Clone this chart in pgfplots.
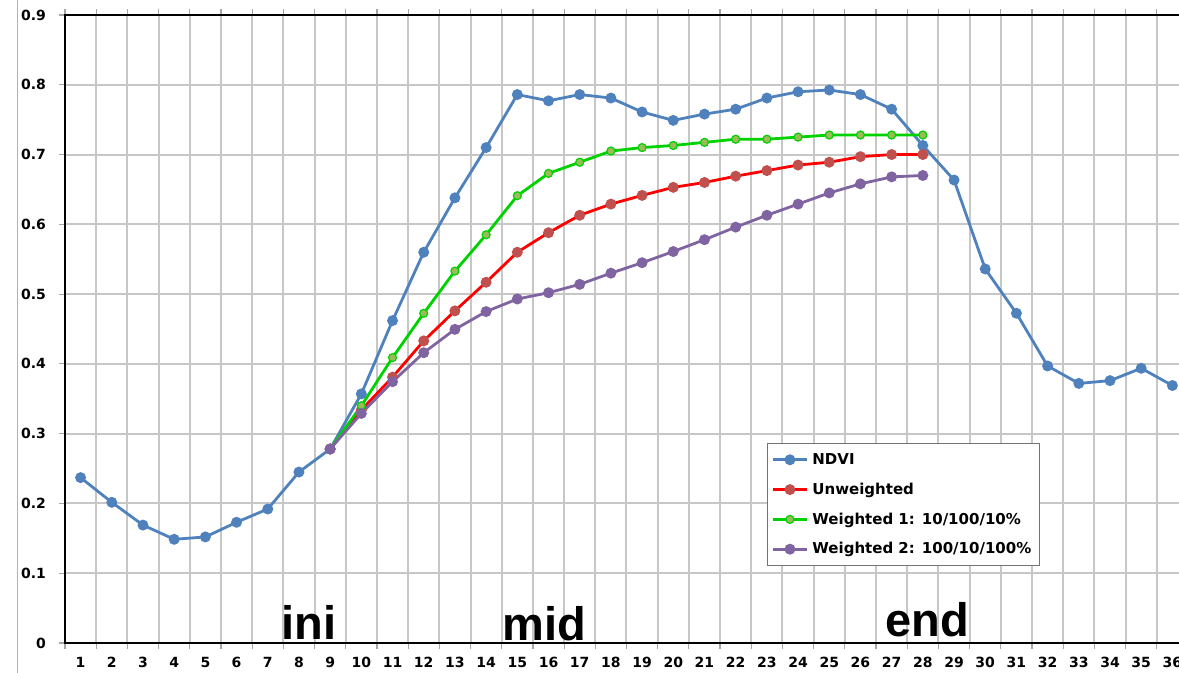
\documentclass[border=0pt]{standalone}
\usepackage{pgfplots}
\pgfplotsset{compat=1.18}
\usepackage{fontspec}
\setmainfont{DejaVu Sans}
\newfontfamily\arialb{Liberation Sans}
\definecolor{ndvi}{HTML}{4F81BD}
\definecolor{redm}{HTML}{C0504D}
\definecolor{greenl}{RGB}{0,210,0}
\definecolor{greenm}{HTML}{9BBB59}
\definecolor{purp}{HTML}{8064A2}
\begin{document}
\begin{tikzpicture}
\useasboundingbox (0,0) rectangle (589.5pt,336.5pt);
\clip (0,0) rectangle (589.5pt,336.5pt);
\draw[black!30, line width=0.5pt] (8.5pt,0) -- (8.5pt,336.5pt);
\begin{axis}[
  at={(32.5pt,15pt)}, anchor=south west,
  scale only axis, width=561.5pt, height=314pt,
  xmin=0.5, xmax=36.5, ymin=0, ymax=0.9,
  xtick={1,...,36},
  minor xtick={0.5,1.5,...,36.5},
  ytick={0,0.1,0.2,0.3,0.4,0.5,0.6,0.7,0.8,0.9},
  yticklabel style={/pgf/number format/fixed,/pgf/number format/precision=1},
  /pgf/number format/assume math mode=true,
  tick label style={font=\fontsize{7}{8}\selectfont\bfseries},
  xticklabel style={yshift=-3pt, inner sep=1pt},
  yticklabel style={xshift=-3pt},
  tick align=outside,
  major tick length=3pt, minor tick length=3pt,
  major x tick style={draw=none},
  minor x tick style={black!35, line width=0.6pt},
  ytick style={black!35, line width=0.6pt},
  xminorgrids=true, ymajorgrids=true,
  grid style={black!22, line width=1pt},
  minor grid style={black!22, line width=1pt},
  axis line style={black, line width=1.3pt},
  legend style={at={(0.6251,0.3185)}, anchor=north west, draw=black!55, line width=0.5pt,
    font=\fontsize{7.5}{9}\selectfont\bfseries, inner sep=2pt,
    nodes={inner sep=2pt, text height=6.5pt, text depth=1.8pt},
    row sep=2.6pt},
  legend cell align=left,
]
\addplot[ndvi, line width=1.4pt, mark=*, mark size=2pt, mark options={fill=ndvi, draw=ndvi}] coordinates {
(1,0.237)(2,0.2016)(3,0.169)(4,0.1486)(5,0.152)(6,0.173)(7,0.192)(8,0.245)(9,0.278)
(10,0.357)(11,0.462)(12,0.560)(13,0.638)(14,0.710)(15,0.786)(16,0.777)(17,0.786)(18,0.781)
(19,0.761)(20,0.749)(21,0.758)(22,0.765)(23,0.781)(24,0.790)(25,0.7925)(26,0.786)(27,0.765)
(28,0.713)(29,0.6635)(30,0.536)(31,0.4725)(32,0.397)(33,0.372)(34,0.376)(35,0.3937)(36,0.369)};
\addlegendentry{NDVI}
\addplot[red, line width=1.4pt, mark=*, mark size=2pt, mark options={fill=redm, draw=redm}] coordinates {
(9,0.278)(10,0.334)(11,0.381)(12,0.433)(13,0.476)(14,0.517)(15,0.560)(16,0.588)(17,0.613)
(18,0.629)(19,0.6415)(20,0.653)(21,0.660)(22,0.669)(23,0.677)(24,0.685)(25,0.689)(26,0.697)
(27,0.700)(28,0.700)};
\addlegendentry{Unweighted}
\addplot[greenl, line width=1.4pt, mark=*, mark size=2pt, mark options={fill=greenm, draw=greenl, line width=0.6pt}] coordinates {
(9,0.278)(10,0.340)(11,0.409)(12,0.4725)(13,0.533)(14,0.585)(15,0.641)(16,0.673)(17,0.689)
(18,0.705)(19,0.710)(20,0.713)(21,0.7175)(22,0.722)(23,0.722)(24,0.725)(25,0.728)(26,0.728)
(27,0.728)(28,0.728)};
\addlegendentry{Weighted 1: 10/100/10\%}
\addplot[purp, line width=1.4pt, mark=*, mark size=2pt, mark options={fill=purp, draw=purp}] coordinates {
(9,0.278)(10,0.329)(11,0.3745)(12,0.416)(13,0.4495)(14,0.475)(15,0.493)(16,0.502)(17,0.514)
(18,0.530)(19,0.545)(20,0.561)(21,0.578)(22,0.596)(23,0.613)(24,0.629)(25,0.645)(26,0.658)
(27,0.668)(28,0.670)};
\addlegendentry{Weighted 2: 100/10/100\%}
\node[font=\arialb\bfseries\fontsize{23.5}{24}\selectfont, anchor=base, inner sep=0pt] at (axis cs:8.32,0.005) {ini};
\node[font=\arialb\bfseries\fontsize{23.5}{24}\selectfont, anchor=base, inner sep=0pt] at (axis cs:15.86,0.003) {mid};
\node[font=\arialb\bfseries\fontsize{23.5}{24}\selectfont, anchor=base, inner sep=0pt] at (axis cs:28.15,0.009) {end};
\end{axis}
\end{tikzpicture}
\end{document}
